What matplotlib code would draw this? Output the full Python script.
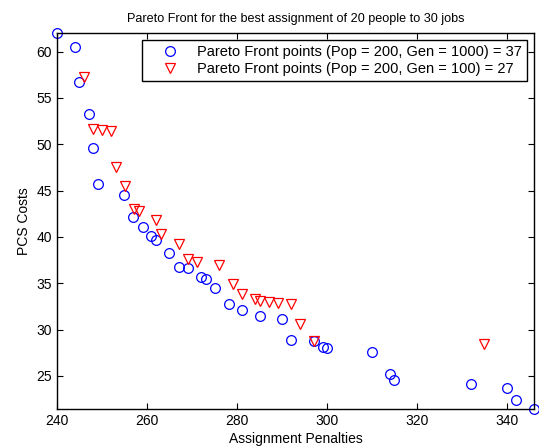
import numpy as np
import matplotlib.pyplot as plt

plt.rcParams['font.family'] = ['Liberation Sans', 'DejaVu Sans']

# Pop = 200, Gen = 1000
pen_1000 = [240, 244, 244.9, 247.1, 248, 249.1, 254.9, 256.9, 259.1, 260.9, 262,
            264.9, 267.1, 269.1, 272, 273.1, 275.1, 278.2, 281.1, 285.1, 290.1,
            291.9, 297, 299, 300.1, 310.1, 314.1, 315, 332, 340, 342, 346]
pcs_1000 = [62, 60.5, 56.7, 53.3, 49.6, 45.7, 44.5, 42.2, 41.1, 40.1, 39.7,
            38.3, 36.8, 36.7, 35.7, 35.5, 34.5, 32.8, 32.1, 31.5, 31.2,
            28.9, 28.8, 28.1, 28.0, 27.6, 25.2, 24.6, 24.1, 23.7, 22.4, 21.4]

# Pop = 200, Gen = 100
pen_100 = [246, 248.1, 250.1, 252.1, 253.1, 255.1, 257.1, 258.2, 262, 263,
           267, 269, 271, 276.1, 279, 281, 284.1, 285.1, 287, 289, 292, 294,
           297, 335]
pcs_100 = [57.3, 51.6, 51.5, 51.4, 47.5, 45.5, 43.0, 42.8, 41.8, 40.3,
           39.2, 37.6, 37.3, 37.0, 34.9, 33.8, 33.3, 33.1, 33.0, 32.9, 32.8, 30.6,
           28.8, 28.4]

fig = plt.figure(figsize=(5.39, 4.47), dpi=100)
ax = fig.add_axes([0.1058, 0.0843, 0.8849, 0.8417])

ax.plot(pen_1000, pcs_1000, 'o', mfc='none', mec='#0000ff', ms=7, mew=0.9,
        label='Pareto Front points (Pop = 200, Gen = 1000) = 37', clip_on=False)
ax.plot(pen_100, pcs_100, 'v', mfc='none', mec='#ff0000', ms=7.5, mew=0.9,
        label='Pareto Front points (Pop = 200, Gen = 100) = 27', clip_on=False)

ax.set_xlim(240, 346)
ax.set_ylim(21.4, 62)
ax.set_xticks(np.arange(240, 341, 20))
ax.set_yticks(np.arange(25, 61, 5))
ax.tick_params(direction='in', top=True, right=True, labelsize=10, length=4)
for s in ax.spines.values():
    s.set_linewidth(1.0)

ax.set_title('Pareto Front for the best assignment of 20 people to 30 jobs',
             fontsize=9.1, pad=8)
ax.set_xlabel('Assignment Penalties', fontsize=10, labelpad=3)
ax.set_ylabel('PCS Costs', fontsize=10, labelpad=4)

leg = ax.legend(loc='upper right', fontsize=10.5, fancybox=False, framealpha=1,
                edgecolor='black', borderaxespad=0.5, handletextpad=0.2,
                borderpad=0.3, labelspacing=0.25, handlelength=3.3)
leg.get_frame().set_linewidth(1.0)

fig.savefig('out.png', dpi=100)
